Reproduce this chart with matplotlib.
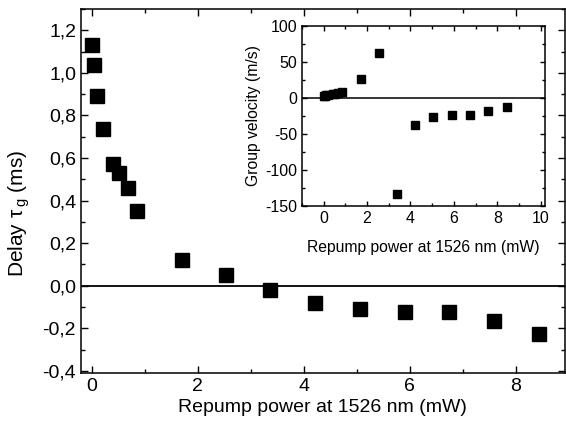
#!/usr/bin/env python3
import matplotlib
matplotlib.use('Agg')
import matplotlib.pyplot as plt
from matplotlib.ticker import MultipleLocator, FuncFormatter

# ====== data ======
power = [0.0, 0.05, 0.10, 0.21, 0.41, 0.51, 0.68, 0.85, 1.70, 2.53,
         3.37, 4.22, 5.06, 5.90, 6.74, 7.59, 8.43]
delay = [1.13, 1.035, 0.89, 0.735, 0.573, 0.53, 0.461, 0.35, 0.122, 0.05,
         -0.022, -0.079, -0.109, -0.123, -0.124, -0.168, -0.226]
velocity = [3, 3, 4, 4.5, 5.5, 6, 7, 9, 26, 62,
            -133, -38, -27, -24, -24, -18, -13]
# ==================

plt.rcParams['font.family'] = 'Liberation Sans'
plt.rcParams['mathtext.fontset'] = 'custom'
plt.rcParams['mathtext.rm'] = 'Liberation Sans'
plt.rcParams['mathtext.it'] = 'Liberation Sans'
plt.rcParams['axes.unicode_minus'] = False


def style_ticks(ax, size, major_len, minor_len):
    ax.tick_params(which='both', direction='in', top=True, right=True,
                   width=1.0, labelsize=size)
    ax.tick_params(which='major', length=major_len)
    ax.tick_params(which='minor', length=minor_len)
    for s in ax.spines.values():
        s.set_linewidth(1.1)


fig = plt.figure(figsize=(5.66, 4.28), dpi=100)
ax = fig.add_axes([0.143, 0.1285, 0.855, 0.8505])

ax.plot(power, delay, 's', color='black', markersize=9.4)
ax.axhline(0, color='black', lw=1.3)
ax.set_xlim(-0.2, 8.92)
ax.set_ylim(-0.41, 1.30)
ax.xaxis.set_major_locator(MultipleLocator(2))
ax.xaxis.set_minor_locator(MultipleLocator(1))
ax.yaxis.set_major_locator(MultipleLocator(0.2))
ax.yaxis.set_minor_locator(MultipleLocator(0.1))
ax.yaxis.set_major_formatter(FuncFormatter(lambda v, p: "{:.1f}".format(v).replace('.', ',').replace('-0,0', '0,0')))
style_ticks(ax, 14, 5, 3)
ax.set_xlabel('Repump power at 1526 nm (mW)', fontsize=14, labelpad=3)
ax.set_ylabel(r'Delay $\tau\,_g$ (ms)', fontsize=15, labelpad=6)
ax.yaxis.set_label_coords(-0.102, 0.44)

ins = fig.add_axes([0.5336, 0.5187, 0.4293, 0.4206])
ins.plot(power, velocity, 's', color='black', markersize=5.8)
ins.axhline(0, color='black', lw=1.1)
ins.set_xlim(-1, 10.2)
ins.set_ylim(-150, 100)
ins.xaxis.set_major_locator(MultipleLocator(2))
ins.xaxis.set_minor_locator(MultipleLocator(1))
ins.yaxis.set_major_locator(MultipleLocator(50))
ins.yaxis.set_minor_locator(MultipleLocator(25))
style_ticks(ins, 11.5, 3.5, 2)
ins.set_xlabel('Repump power at 1526 nm (mW)', fontsize=11.3, labelpad=10)
ins.set_ylabel('Group velocity (m/s)', fontsize=11.3, labelpad=3)

fig.savefig('out.png', dpi=100)
